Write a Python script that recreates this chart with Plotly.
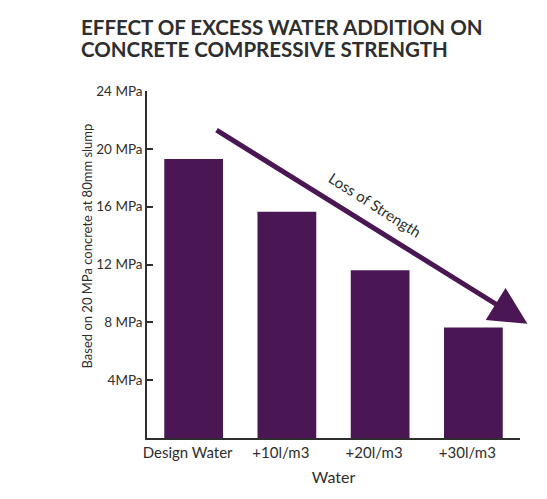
import plotly.graph_objects as go

# Données
categories = ["Design Water", "+10l/m3", "+20l/m3", "+30l/m3"]
strength_mpa = [19.3, 15.65, 11.6, 7.65]
tick_values = [4, 8, 12, 16, 20, 24]
tick_labels = ["4MPa", "8 MPa", "12 MPa", "16 MPa", "20 MPa", "24 MPa"]
title_lines = ["EFFECT OF EXCESS WATER ADDITION ON", "CONCRETE COMPRESSIVE STRENGTH"]

PURPLE = "#4a1754"
GREY = "#2e2e2e"
FONT = "Lato"

# La page HTML a une marge de 8px : on compense dans la taille et les marges
W, H = 539, 491
L, R, T, B = 139, 27, 83, 61
plot_h = H - T - B
plot_w = W - L - R

fig = go.Figure(
	go.Bar(
		x=categories,
		y=strength_mpa,
		marker=dict(color=PURPLE, line=dict(width=0)),
		width=0.63,
	)
)

# Flèche "Loss of Strength"
fig.add_annotation(
	x=3.58, y=7.9, ax=0.23, ay=21.35,
	xref="x", yref="y", axref="x", ayref="y",
	text="", showarrow=True,
	arrowhead=2, arrowsize=1.5, arrowwidth=5, arrowcolor=PURPLE,
)
fig.add_annotation(
	x=1.95, y=16.1, xref="x", yref="y",
	text="Loss of Strength", showarrow=False, textangle=32.5,
	font=dict(size=15, color=GREY, family=FONT),
)

# Titre de l'axe Y (décalé vers le haut comme l'original)
fig.add_annotation(
	x=(87 - 147) / plot_w, y=0.552, xref="paper", yref="paper",
	xanchor="center", yanchor="middle",
	text="Based on 20 MPa concrete at 80mm slump", showarrow=False, textangle=-90,
	font=dict(size=13, color=GREY, family=FONT),
)

# Titre sur deux lignes (annotations séparées pour un interligne serré)
for i, line in enumerate(title_lines):
	fig.add_annotation(
		x=(79 - 147) / plot_w, y=1 + (T - (27 + 22 * i - 8)) / plot_h,
		xref="paper", yref="paper", xanchor="left", yanchor="middle",
		text=f"<b>{line}</b>", showarrow=False,
		font=dict(size=20.5, color=GREY, family=FONT),
	)

fig.update_layout(
	width=W,
	height=H,
	margin=dict(l=L, r=R, t=T, b=B),
	paper_bgcolor="white",
	plot_bgcolor="white",
	showlegend=False,
	font=dict(family=FONT, color=GREY),
	bargap=0.37,
)

fig.update_xaxes(
	range=[-0.5, 3.5],
	showline=True, linecolor=GREY, linewidth=1.5,
	ticks="", showgrid=False,
	tickfont=dict(size=15, color=GREY),
	ticklabelshift=-6,
	title=dict(text="Water", font=dict(size=16, color=GREY), standoff=12),
)
fig.update_yaxes(
	range=[0, 24],
	showline=True, linecolor=GREY, linewidth=1.5,
	ticks="inside", ticklen=6, tickwidth=1.5, tickcolor=GREY,
	tickvals=tick_values, ticktext=tick_labels,
	tickfont=dict(size=13.5, color=GREY),
	showgrid=False, zeroline=False,
)

fig.write_html("out.html")
